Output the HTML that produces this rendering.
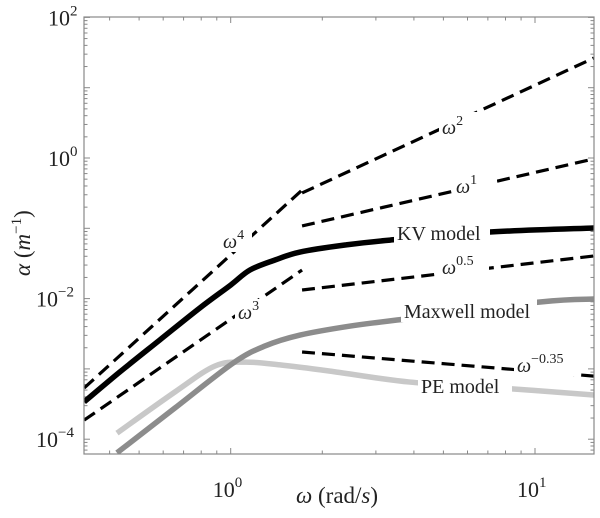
<!DOCTYPE html>
<html><head><meta charset="utf-8"><style>
html,body{margin:0;padding:0;background:#fff;}
svg{display:block;font-family:"Liberation Serif",serif;}
</style></head><body>
<svg id="chart" width="600" height="518" viewBox="0 0 600 518" xmlns="http://www.w3.org/2000/svg"></svg>
<script>
const xTickVals = [1, 10];
const xTickLabels = ["0", "1"];
const yTickVals = [1e-4, 1e-2, 1, 100];
const yTickLabels = ["\u22124", "\u22122", "0", "2"];
const kvOmega = [0.33,0.433,0.586,0.793,1.0,1.157,1.398,1.69,2.376,3.34,7.11,15.6];
const kvAlpha = [3.4e-4,9.1e-4,2.6e-3,7.4e-3,0.0156,0.0255,0.0354,0.046,0.0578,0.068,0.0886,0.101];
const mxOmega = [0.423,0.656,1.018,1.297,1.69,2.47,3.52,10.4,15.6];
const mxAlpha = [6.4e-5,2.78e-4,1.21e-3,2.12e-3,3.03e-3,4.07e-3,4.96e-3,8.95e-3,9.87e-3];
const peOmega = [0.423,0.656,0.888,1.114,1.452,2.12,3.88,8.4,15.6];
const peAlpha = [1.22e-4,4.7e-4,1.1e-3,1.25e-3,1.14e-3,9.3e-4,6.5e-4,5.2e-4,4.26e-4];
const refNames = ["w4","w3","w2","w1","w05","wm035"];
const refOmega0 = [0.33,0.33,1.716,1.716,1.716,1.716];
const refOmega1 = [1.716,1.716,15.6,15.6,15.6,15.6];
const refAlpha0 = [5.35e-4,1.87e-4,0.318,0.108,0.01325,1.74e-3];
const refAlpha1 = [0.35,0.0255,26.4,0.97,0.0404,7.9e-4];

const L=84,R=594,T=17,B=454;
const xPx=230.7, xDec=304.3, yPx=158, yDec=70.3;
function X(w){return xPx+Math.log10(w)*xDec;}
function Y(a){return yPx-Math.log10(a)*yDec;}
const svg=document.getElementById('chart');
const NS='http://www.w3.org/2000/svg';
function mk(tag,attrs,parent){const e=document.createElementNS(NS,tag);for(const k in attrs)e.setAttribute(k,attrs[k]);(parent||svg).appendChild(e);return e;}

const clip=mk('clipPath',{id:'pc'});mk('rect',{x:L,y:T,width:R-L,height:B-T},clip);

const tg=mk('g',{stroke:'#888','stroke-width':'1'});


for(let d=-1;d<=1;d++)for(let m=1;m<10;m++){const v=m*Math.pow(10,d);const x=X(v);if(x<L||x>R)continue;const len=m===1?6:3.5;
mk('line',{x1:x,x2:x,y1:B,y2:B-len},tg);mk('line',{x1:x,x2:x,y1:T,y2:T+len},tg);}
for(let d=-5;d<=2;d++)for(let m=1;m<10;m++){const v=m*Math.pow(10,d);const y=Y(v);if(y<T-0.5||y>B)continue;const len=m===1?6:3.5;
mk('line',{x1:L,x2:L+len,y1:y,y2:y},tg);mk('line',{x1:R,x2:R-len,y1:y,y2:y},tg);}

const pg=mk('g',{'clip-path':'url(#pc)'});
function smoothPath(ws,as){const p=ws.map((w,i)=>[X(w),Y(as[i])]);let d='M'+p[0][0]+','+p[0][1];
for(let i=0;i<p.length-1;i++){const p0=p[i-1]||p[i],p1=p[i],p2=p[i+1],p3=p[i+2]||p2;
const c1=[p1[0]+(p2[0]-p0[0])/6,p1[1]+(p2[1]-p0[1])/6],c2=[p2[0]-(p3[0]-p1[0])/6,p2[1]-(p3[1]-p1[1])/6];
d+=' C'+c1[0]+','+c1[1]+' '+c2[0]+','+c2[1]+' '+p2[0]+','+p2[1];}return d;}
function curve(ws,as,attrs,name){const p=mk('path',Object.assign({d:smoothPath(ws,as),fill:'none','stroke-linejoin':'round'},attrs),pg);

return p;}
for(let i=0;i<refNames.length;i++){
 curve([refOmega0[i],refOmega1[i]],[refAlpha0[i],refAlpha1[i]],{stroke:'#000','stroke-width':3.2,'stroke-dasharray':'13 7'},'reference-line-'+refNames[i]);
}
curve(peOmega,peAlpha,{stroke:'#c8c8c8','stroke-width':5.5},'pe-model-curve');
curve(mxOmega,mxAlpha,{stroke:'#8c8c8c','stroke-width':5.5},'maxwell-model-curve');
curve(kvOmega,kvAlpha,{stroke:'#000','stroke-width':5.5},'kv-model-curve');

mk('rect',{x:L,y:T,width:R-L,height:B-T,fill:'none',stroke:'#888','stroke-width':1.2});

function txt(x,y,html,name,extra){const t=mk('text',Object.assign({x:x,y:y,'font-size':20,fill:'#222'},extra||{}));t.innerHTML=html;

return t;}
function bgtxt(x,y,w,h,html,name,extra){mk('rect',{x:x-3,y:y-h+4,width:w,height:h,fill:'#fff'});return txt(x,y,html,name,extra);}

xTickVals.forEach((v,i)=>{txt(X(v)-18,B+43,'10<tspan dy="-10" font-size="15">'+xTickLabels[i]+'</tspan>','x-tick-label',{'font-size':22});});
yTickVals.forEach((v,i)=>{txt(i>=2?48:36,Y(v)+8,'10<tspan dy="-10" font-size="15">'+yTickLabels[i]+'</tspan>','y-tick-label',{'font-size':22});});

txt(296,503,'<tspan font-style="italic">ω</tspan> (rad/<tspan font-style="italic">s</tspan>)','x-axis-title',{'font-size':23});
txt(0,0,'<tspan font-style="italic">α</tspan> (<tspan font-style="italic">m</tspan><tspan dy="-9" font-size="15">−1</tspan><tspan dy="9">)</tspan>','y-axis-title',{'font-size':23,transform:'translate(30,276) rotate(-90)'});

const S='<tspan dy="-9" font-size="14">';
bgtxt(223,248,32,24,'<tspan font-style="italic">ω</tspan>'+S+'4</tspan>','label-w4');
bgtxt(238,319,32,24,'<tspan font-style="italic">ω</tspan>'+S+'3</tspan>','label-w3');
bgtxt(442,134,42,26,'<tspan font-style="italic">ω</tspan>'+S+'2</tspan>','label-w2');
bgtxt(456,193,44,26,'<tspan font-style="italic">ω</tspan>'+S+'1</tspan>','label-w1');
bgtxt(397,240,96,24,'KV model','label-kv-model');
bgtxt(442,274,50,22,'<tspan font-style="italic">ω</tspan>'+S+'0.5</tspan>','label-w05');
bgtxt(404,318,136,24,'Maxwell model','label-maxwell-model');
bgtxt(517,372,66,20,'<tspan font-style="italic">ω</tspan>'+S+'−0.35</tspan>','label-wm035');
bgtxt(421,393,94,24,'PE model','label-pe-model');
</script>
</body></html>
